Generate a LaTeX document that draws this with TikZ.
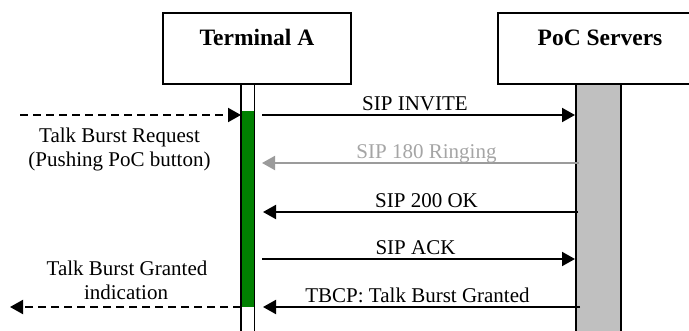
\documentclass[tikz,border=0pt]{standalone}
\usepackage{fontspec}
\setmainfont{Liberation Serif}
\usetikzlibrary{arrows.meta}
\definecolor{actgreen}{RGB}{0,128,0}
\definecolor{srvgray}{RGB}{192,192,192}
\definecolor{msggray}{RGB}{155,155,155}
\definecolor{msgtextgray}{RGB}{165,165,165}
\begin{document}
\begin{tikzpicture}[x=1pt,y=-1pt,
  hdrbox/.style={draw, line width=1.5pt, inner sep=0},
  hdrtext/.style={font=\fontsize{23.5}{26}\selectfont\bfseries, anchor=base, inner sep=0},
  msgtext/.style={font=\fontsize{21}{24}\selectfont, anchor=base, inner sep=0},
  sidetext/.style={font=\fontsize{21}{24}\selectfont, align=center, anchor=base, inner sep=0},
  msg/.style={line width=2pt, -{Triangle[length=13pt,width=14pt]}},
  graymsg/.style={msg, draw=msggray, -{Triangle[length=13pt,width=14pt,fill=msggray]}},
  dashmsg/.style={msg, dash pattern=on 8pt off 5pt},
  life/.style={draw, line width=1.5pt, inner sep=0}
]
\useasboundingbox (0,0) rectangle (689,331);
\clip (0,0) rectangle (689,331);

% header boxes
\node[hdrbox, minimum width=188pt, minimum height=71pt] (ta) at (257,48.5) {};
\node[hdrtext] (talabel) at (257,46) {Terminal A};
\node[hdrbox, minimum width=194pt, minimum height=71pt] (ps) at (595,48.5) {};
\node[hdrtext] (pslabel) at (600,46) {PoC Servers};

% lifelines
\node[life, minimum width=45pt, minimum height=260pt, fill=srvgray, anchor=north west] (srv) at (575,84) {};
\node[inner sep=0, minimum width=13pt, minimum height=196pt, fill=actgreen, anchor=north west] (act) at (241,111) {};
\draw[line width=1.5pt] (ta.south -| act.west) -- ++(0,260) coordinate (alow);
\draw[line width=1.5pt] (ta.south -| act.east) -- ++(0,260) coordinate (arow);

% coordinates
\coordinate (a1) at (262,115);  \coordinate (s1) at (575,115);
\coordinate (s2) at (579,163);  \coordinate (a2) at (262,163);
\coordinate (s3) at (578,212);  \coordinate (a3) at (263,212);
\coordinate (a4) at (262,259);  \coordinate (s4) at (575,259);
\coordinate (s5) at (580,307);  \coordinate (a5) at (263,307);
\coordinate (u1) at (20,115);   \coordinate (t1) at (241,115);
\coordinate (t2) at (241,307);  \coordinate (u2) at (10,307);

% messages
\draw[msg] (a1) -- (s1);
\node[msgtext] (l1) at (415,110.5) {SIP INVITE};
\draw[graymsg] (s2) -- (a2);
\node[msgtext, text=msgtextgray] (l2) at (426.5,158.5) {SIP 180 Ringing};
\draw[msg] (s3) -- (a3);
\node[msgtext] (l3) at (426.5,207.5) {SIP 200 OK};
\draw[msg] (a4) -- (s4);
\node[msgtext] (l4) at (415.5,254.5) {SIP ACK};
\draw[msg] (s5) -- (a5);
\node[msgtext] (l5) at (417.5,302.5) {TBCP: Talk Burst Granted};

% user side
\draw[dashmsg] (u1) -- (t1);
\node[msgtext] (r1) at (119.5,143) {Talk Burst Request};
\node[msgtext] (r2) at (119.5,167) {(Pushing PoC button)};
\draw[dashmsg] (t2) -- (u2);
\node[msgtext] (g1) at (127,276) {Talk Burst Granted};
\node[msgtext] (g2) at (126,300) {indication};
\end{tikzpicture}
\end{document}
